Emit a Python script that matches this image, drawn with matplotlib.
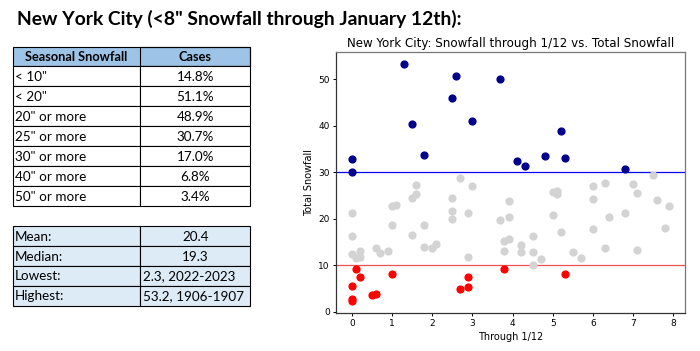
import matplotlib
matplotlib.use("Agg")
import matplotlib.pyplot as plt
from matplotlib.patches import Rectangle

# snowfall through 1/12 (x) vs season total (y)
low_x = [0.1, 0, 0.2, 0, 0, 0.5, 0.6, 1.0, 2.7, 2.9, 2.9, 3.8, 5.3]
low_y = [9.1, 5.5, 7.4, 2.3, 2.8, 3.5, 3.7, 8.0, 4.9, 7.4, 5.3, 9.2, 8.0]

high_x = [0, 0, 1.3, 1.5, 1.8, 2.5, 2.6, 3.0, 3.7, 5.2, 4.1, 4.3, 4.8, 5.3, 6.8]
high_y = [32.7, 30.0, 53.2, 40.3, 33.7, 45.9, 50.6, 41.0, 50.1, 38.8, 32.4, 31.3, 33.4, 33.1, 30.6]

mid_x = [0, 0, 0, 0.1, 0.2, 0.2, 0.6, 0.7, 0.9, 1.0, 1.1, 1.0, 1.5, 1.6, 1.6, 1.5,
         1.8, 1.8, 2.0, 2.1, 2.5, 2.5, 2.5, 2.7, 2.9, 2.9, 3.0,
         3.7, 3.9, 3.9, 3.8, 3.9, 3.8, 4.2, 4.2, 4.5, 4.5, 4.5, 4.7, 5.0, 5.0, 5.1, 5.1,
         5.2, 5.5, 5.7, 6.0, 6.0, 6.0, 6.3, 6.4, 6.3, 6.8, 7.0, 7.1, 7.1, 7.5, 7.6, 7.9, 7.8]
mid_y = [21.3, 16.2, 12.4, 11.6, 13.1, 11.7, 13.6, 12.6, 13.0, 22.7, 23.0, 18.7, 24.5, 27.3, 25.3, 16.5,
         18.6, 13.9, 13.7, 14.5, 24.5, 21.7, 20.0, 28.8, 21.3, 11.8, 27.0,
         19.7, 23.7, 20.4, 15.2, 15.6, 13.1, 14.4, 12.9, 16.2, 12.7, 10.0, 11.2, 20.7, 25.7, 26.0, 25.2,
         17.2, 12.7, 11.5, 26.9, 24.3, 17.8, 27.7, 20.4, 13.7, 21.2, 27.5, 25.4, 13.3, 29.3, 24.0, 22.7, 18.0]

# summary tables
thresholds = ['< 10"', '< 20"', '20" or more', '25" or more', '30" or more', '40" or more', '50" or more']
cases = ["14.8%", "51.1%", "48.9%", "30.7%", "17.0%", "6.8%", "3.4%"]
stat_names = ["Mean:", "Median:", "Lowest:", "Highest:"]
stat_values = ["20.4", "19.3", "2.3, 2022-2023", "53.2, 1906-1907"]

FONT = "Lato"

fig = plt.figure(figsize=(7, 3.51), dpi=100)

# page layer in pixel coordinates for the title and tables
page = fig.add_axes([0, 0, 1, 1])
page.set_xlim(0, 700)
page.set_ylim(351, 0)
page.axis("off")

page.text(17, 19, 'New York City (<8" Snowfall through January 12th):', family=FONT,
          fontweight="bold", fontsize=13.9, va="center", ha="left")

c0, c1, c2 = 12.7, 140.3, 250.3
LW = 0.8

# first table
top, head_h, row_h = 46.7, 19.6, 20.0
page.add_patch(Rectangle((c0, top), c2 - c0, head_h, facecolor="#9DC3E6", edgecolor="black", lw=LW))
page.add_patch(Rectangle((c1, top), c2 - c1, head_h, facecolor="none", edgecolor="black", lw=LW))
page.text((c0 + c1) / 2, top + head_h / 2 + 0.5, "Seasonal Snowfall", family=FONT, fontweight="bold",
          fontsize=9.2, ha="center", va="center")
page.text((c1 + c2) / 2, top + head_h / 2 + 0.5, "Cases", family=FONT, fontweight="bold",
          fontsize=9.2, ha="center", va="center")
for i, (lab, val) in enumerate(zip(thresholds, cases)):
    y = top + head_h + i * row_h
    page.add_patch(Rectangle((c0, y), c1 - c0, row_h, facecolor="white", edgecolor="black", lw=LW))
    page.add_patch(Rectangle((c1, y), c2 - c1, row_h, facecolor="white", edgecolor="black", lw=LW))
    page.text(c0 + 2.5, y + row_h / 2 + 0.5, lab, family=FONT, fontsize=9.7, ha="left", va="center")
    page.text((c1 + c2) / 2, y + row_h / 2 + 0.5, val, family=FONT, fontsize=9.7, ha="center", va="center")

# second table
top2, row_h2 = 226.3, 19.85
for i, (lab, val) in enumerate(zip(stat_names, stat_values)):
    y = top2 + i * row_h2
    page.add_patch(Rectangle((c0, y), c1 - c0, row_h2, facecolor="#DDEBF7", edgecolor="black", lw=LW))
    page.add_patch(Rectangle((c1, y), c2 - c1, row_h2, facecolor="#DDEBF7", edgecolor="black", lw=LW))
    page.text(c0 + 2.5, y + row_h2 / 2 + 0.5, lab, family=FONT, fontsize=9.7, ha="left", va="center")
    if "," in val:
        page.text(c1 + 3, y + row_h2 / 2 + 0.5, val, family=FONT, fontsize=9.7, ha="left", va="center")
    else:
        page.text((c1 + c2) / 2, y + row_h2 / 2 + 0.5, val, family=FONT, fontsize=9.7, ha="center", va="center")

# scatter chart
ax = fig.add_axes([0.48, 0.1091, 0.4986, 0.7419])
ax.scatter(mid_x, mid_y, s=24, color="lightgray", zorder=3)
ax.scatter(low_x, low_y, s=24, color="red", zorder=3)
ax.scatter(high_x, high_y, s=24, color="darkblue", zorder=3)
ax.axhline(30, color="blue", lw=0.9, zorder=2)
ax.axhline(10, color="#f05050", lw=0.9, zorder=2)

ax.set_title("New York City: Snowfall through 1/12 vs. Total Snowfall", fontsize=8.6, pad=4)
ax.set_xlabel("Through 1/12", fontsize=7, labelpad=3)
ax.set_ylabel("Total Snowfall", fontsize=7, labelpad=3)
ax.tick_params(labelsize=6.5, length=2.5, width=0.7, pad=2)
for side in ["top", "right"]:
    ax.spines[side].set_color("#777777")
for side in ["left", "bottom"]:
    ax.spines[side].set_color("#333333")
for sp in ax.spines.values():
    sp.set_linewidth(0.9)

fig.savefig("out.png", dpi=100)
